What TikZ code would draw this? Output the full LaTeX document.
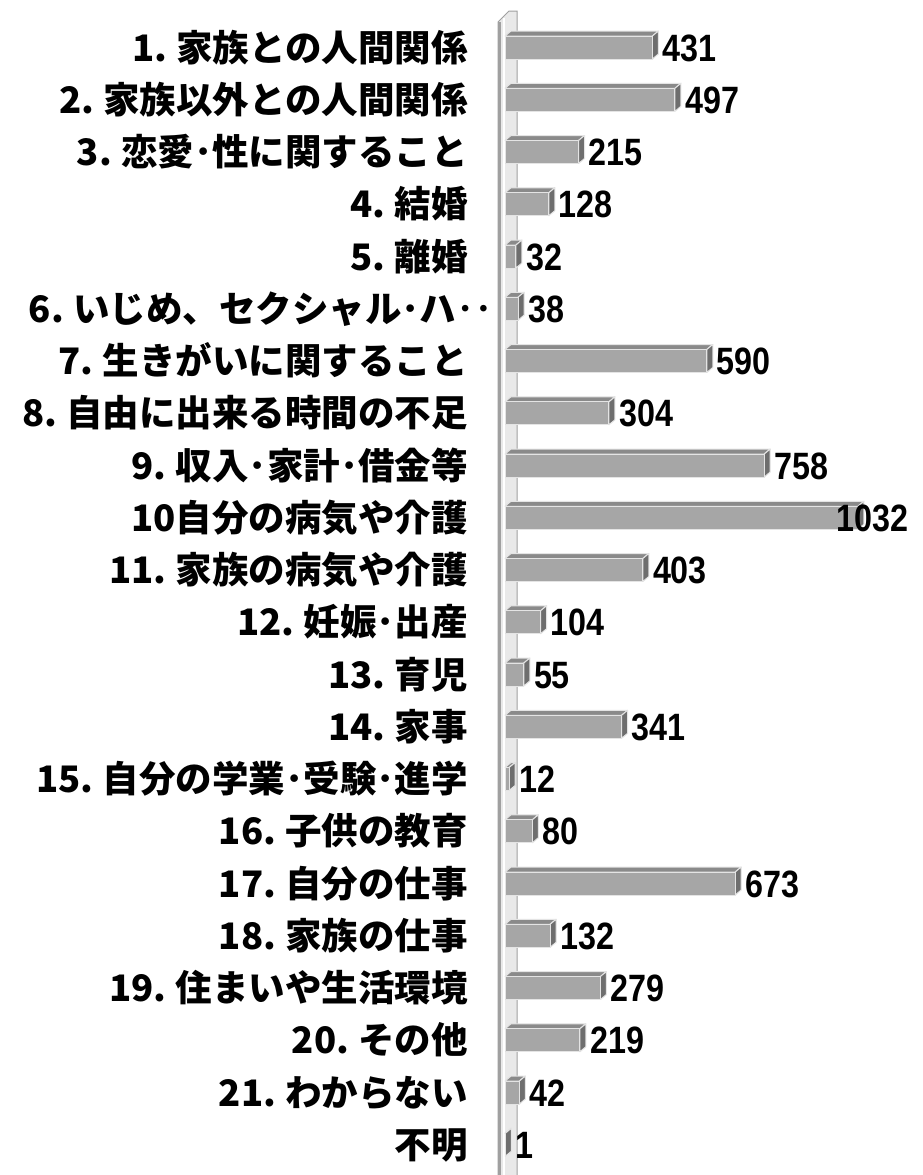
\documentclass[tikz,border=0pt]{standalone}
\usepackage{fontspec}
\newfontfamily\jpfont{Noto Sans CJK JP}
\newfontfamily\numfont{Liberation Sans}
\definecolor{barfront}{HTML}{A6A6A6}
\definecolor{bartop}{HTML}{8A8A8A}
\definecolor{barside}{HTML}{6E6E6E}
\definecolor{barglow}{HTML}{E4E4E4}
\definecolor{wallfill}{HTML}{E9E9E9}
\definecolor{walledge}{HTML}{A0A0A0}
\tikzset{
  catlabel/.style={anchor=base east, inner sep=0pt, font=\jpfont\bfseries\fontsize{36.5}{38}\selectfont},
  vallabel/.style={anchor=base west, inner sep=0pt, font=\numfont\bfseries\fontsize{34}{36}\selectfont},
  face/.style={draw=barglow, line width=1pt, line join=round},
}
\newcommand\chartrow[5]{% #1 row, #2 value, #3 label, #4 value label x shift, #5 label right x
  \pgfmathsetmacro\cy{48+(#1-1)*52.25}
  \pgfmathsetmacro\bx{505+#2*0.342}
  \fill[face, fill=bartop] (505,\cy-12) -- (511,\cy-17) -- (\bx+6,\cy-17) -- (\bx,\cy-12) -- cycle;
  \fill[face, fill=barside] (\bx,\cy-12) -- (\bx+6,\cy-17) -- (\bx+6,\cy+6) -- (\bx,\cy+11) -- cycle;
  \filldraw[face, fill=barfront] (505,\cy-12) rectangle (\bx,\cy+11);
  \node[catlabel] (l#1) at (#5,\cy+13) {#3};
  \node[vallabel] (v#1) at (\bx+10+#4,\cy+13) {\scalebox{0.95}[1.12]{#2}};
}
\begin{document}
\begin{tikzpicture}[x=1pt,y=-1pt]
\useasboundingbox (0,0) rectangle (923,1175);
\fill[white] (0,0) rectangle (923,1175);
% wall
\filldraw[fill=wallfill, draw=walledge, line width=1pt] (498,1176) -- (498,22) -- (509,11) -- (517,11) -- (517,1176);
\draw[walledge, line width=2.5pt] (499.5,22) -- (499.5,1176);
\draw[white, line width=1.5pt] (504,18) -- (504,1176);
\chartrow{1}{431}{1.\hspace{0.25em}家族との人間関係}{0}{468}
\chartrow{2}{497}{2.\hspace{0.25em}家族以外との人間関係}{0}{468}
\chartrow{3}{215}{3.\hspace{0.25em}恋愛･性に関すること}{0}{468}
\chartrow{4}{128}{4.\hspace{0.25em}結婚}{0}{468}
\chartrow{5}{32}{5.\hspace{0.25em}離婚}{0}{468}
\chartrow{6}{38}{6.\hspace{0.25em}いじめ、セクシャル･ハ‥}{0}{493}
\chartrow{7}{590}{7.\hspace{0.25em}生きがいに関すること}{0}{468}
\chartrow{8}{304}{8.\hspace{0.25em}自由に出来る時間の不足}{0}{468}
\chartrow{9}{758}{9.\hspace{0.25em}収入･家計･借金等}{0}{468}
\chartrow{10}{1032}{10自分の病気や介護}{-32}{468}
\chartrow{11}{403}{11.\hspace{0.25em}家族の病気や介護}{0}{468}
\chartrow{12}{104}{12.\hspace{0.25em}妊娠･出産}{0}{468}
\chartrow{13}{55}{13.\hspace{0.25em}育児}{0}{468}
\chartrow{14}{341}{14.\hspace{0.25em}家事}{0}{468}
\chartrow{15}{12}{15.\hspace{0.25em}自分の学業･受験･進学}{0}{468}
\chartrow{16}{80}{16.\hspace{0.25em}子供の教育}{0}{468}
\chartrow{17}{673}{17.\hspace{0.25em}自分の仕事}{0}{468}
\chartrow{18}{132}{18.\hspace{0.25em}家族の仕事}{0}{468}
\chartrow{19}{279}{19.\hspace{0.25em}住まいや生活環境}{0}{468}
\chartrow{20}{219}{20.\hspace{0.25em}その他}{0}{468}
\chartrow{21}{42}{21.\hspace{0.25em}わからない}{0}{468}
\chartrow{22}{1}{不明}{0}{468}
\end{tikzpicture}
\end{document}
